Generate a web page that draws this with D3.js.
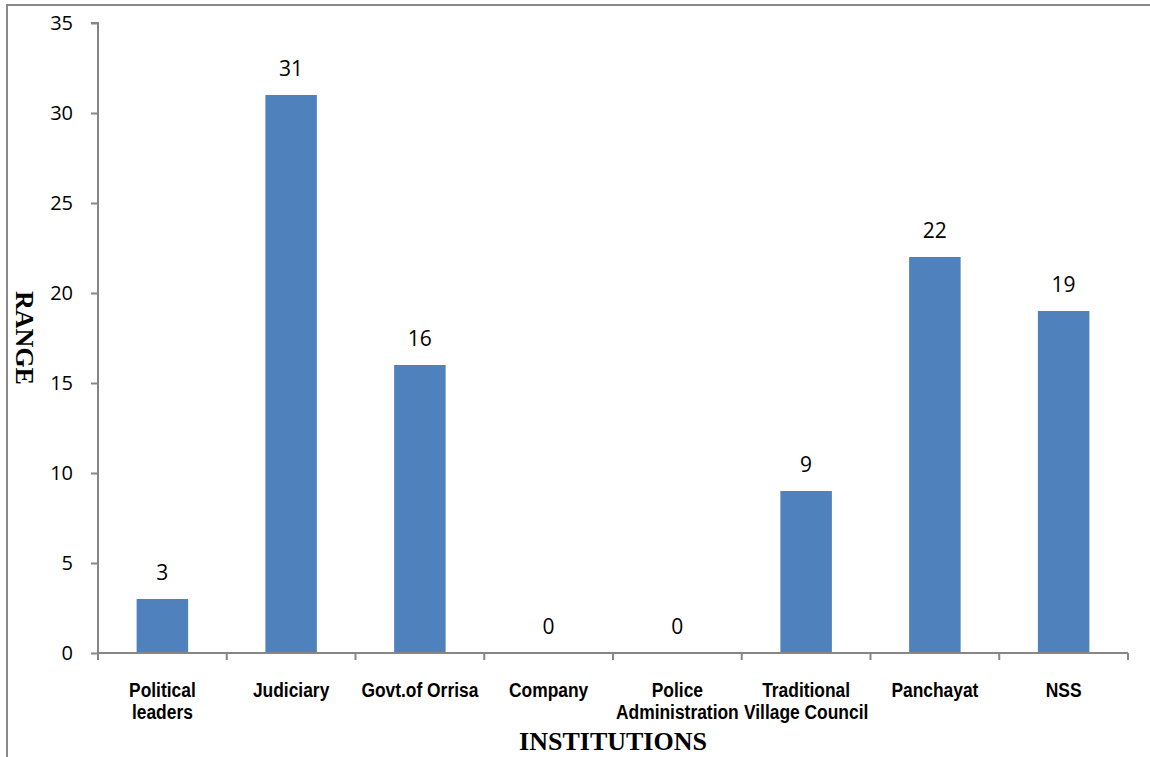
<!DOCTYPE html>
<html>
<head>
<meta charset="utf-8">
<script src="https://cdn.jsdelivr.net/npm/d3@7"></script>
<style>
  body { margin: 0; background: #fff; }
  svg { display: block; }
</style>
</head>
<body>
<svg id="chart"></svg>
<script>
// data
var categories = ["Political leaders", "Judiciary", "Govt.of Orrisa", "Company", "Police Administration", "Traditional Village Council", "Panchayat", "NSS"]
var labelLines = [["Political", "leaders"], ["Judiciary"], ["Govt.of Orrisa"], ["Company"], ["Police", "Administration"], ["Traditional", "Village Council"], ["Panchayat"], ["NSS"]]
var values = [3, 31, 16, 0, 0, 9, 22, 19]
var yTicks = [0, 5, 10, 15, 20, 25, 30, 35]

var dimensions = {
	width: 1150,
	height: 757,
	margin: { top: 23, bottom: 104, left: 98, right: 22 }
}

var svg = d3.select("#chart")
	.attr("width", dimensions.width)
	.attr("height", dimensions.height)

// outer frame (top and left only visible)
svg.append("line")
	.attr("x1", 7).attr("x2", dimensions.width)
	.attr("y1", 5).attr("y2", 5)
	.style("stroke", "#8a8a8a").style("stroke-width", 2)
svg.append("line")
	.attr("x1", 7).attr("x2", 7)
	.attr("y1", 4).attr("y2", dimensions.height)
	.style("stroke", "#8a8a8a").style("stroke-width", 2)

var x0 = dimensions.margin.left
var x1 = dimensions.width - dimensions.margin.right
var yBottom = dimensions.height - dimensions.margin.bottom

var xScale = d3.scaleBand()
	.domain(categories)
	.range([x0, x1])
	.padding(0)

var yScale = d3.scaleLinear()
	.domain([0, 35])
	.range([yBottom, dimensions.margin.top])

var barW = xScale.bandwidth() * 0.4

svg.selectAll("rect.bar")
	.data(values)
	.enter()
	.append("rect")
	.attr("class", "bar")
	.attr("x", (d, i) => xScale(categories[i]) + (xScale.bandwidth() - barW) / 2)
	.attr("y", d => yScale(d))
	.attr("width", barW)
	.attr("height", d => yBottom - yScale(d))
	.attr("fill", "#4f81bd")

// value labels
svg.selectAll("text.val")
	.data(values)
	.enter()
	.append("text")
	.attr("class", "val")
	.attr("x", (d, i) => xScale(categories[i]) + xScale.bandwidth() / 2)
	.attr("y", d => yScale(d) - 19)
	.attr("text-anchor", "middle")
	.style("font-family", "'Open Sans', 'Noto Sans', sans-serif")
	.style("font-size", "21px")
	.style("fill", "#000")
	.text(d => d)

// y axis
var yAxisgen = d3.axisLeft(yScale)
	.tickValues(yTicks)
	.tickSize(7)
	.tickPadding(18)
	.tickFormat(d3.format("d"))

var yAxis = svg.append("g")
	.attr("transform", "translate(" + x0 + ",0)")
	.call(yAxisgen)
yAxis.select(".domain").attr("stroke", "#868686").attr("stroke-width", 2)
	.attr("d", "M-7," + (dimensions.margin.top) + "H0V" + yBottom)
yAxis.selectAll(".tick line").attr("stroke", "#868686").attr("stroke-width", 2)
yAxis.selectAll(".tick text")
	.style("font-family", "'Open Sans', 'Noto Sans', sans-serif")
	.style("font-size", "20px")
	.style("fill", "#000")

// x axis baseline and boundary ticks
var edges = categories.map(c => xScale(c)).concat([x1])
svg.append("line")
	.attr("x1", x0).attr("x2", x1)
	.attr("y1", yBottom).attr("y2", yBottom)
	.style("stroke", "#868686").style("stroke-width", 2)
svg.selectAll("line.xtick")
	.data(edges)
	.enter()
	.append("line")
	.attr("class", "xtick")
	.attr("x1", d => d).attr("x2", d => d)
	.attr("y1", yBottom).attr("y2", yBottom + 7)
	.style("stroke", "#868686").style("stroke-width", 2)

// category labels, squeezed to look like a narrow bold face
var catText = svg.selectAll("text.cat")
	.data(labelLines)
	.enter()
	.append("text")
	.attr("class", "cat")
	.attr("transform", (d, i) => "translate(" + (xScale(categories[i]) + xScale.bandwidth() / 2) + ",0) scale(0.87,1)")
	.attr("text-anchor", "middle")
	.style("font-family", "'Liberation Sans', Arial, sans-serif")
	.style("font-weight", "bold")
	.style("font-size", "20px")
	.style("fill", "#000")

catText.selectAll("tspan")
	.data(d => d)
	.enter()
	.append("tspan")
	.attr("x", 0)
	.attr("y", (d, j) => 697 + j * 22)
	.text(d => d)

// axis titles
svg.append("text")
	.attr("x", (x0 + x1) / 2)
	.attr("y", 750)
	.attr("text-anchor", "middle")
	.style("font-family", "'Liberation Serif', 'Times New Roman', serif")
	.style("font-weight", "bold")
	.style("font-size", "26px")
	.text("INSTITUTIONS")

svg.append("text")
	.attr("transform", "translate(16," + ((dimensions.margin.top + yBottom) / 2) + ") rotate(90)")
	.attr("text-anchor", "middle")
	.style("font-family", "'Liberation Serif', 'Times New Roman', serif")
	.style("font-weight", "bold")
	.style("font-size", "26px")
	.text("RANGE")
</script>
</body>
</html>
